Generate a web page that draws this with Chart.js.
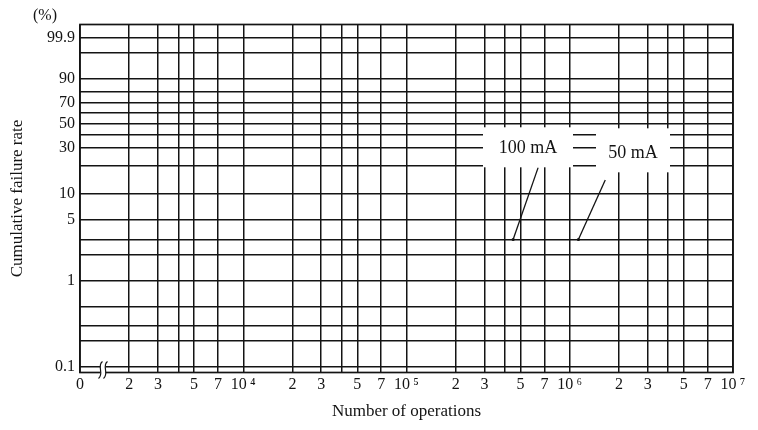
<!DOCTYPE html>
<html>
<head>
<meta charset="utf-8">
<script src="https://cdn.jsdelivr.net/npm/chart.js@4.4.1/dist/chart.umd.min.js"></script>
<style>
  html, body { margin: 0; padding: 0; background: #fff; }
</style>
</head>
<body>
<canvas id="chart" width="758" height="430"></canvas>
<script>
// ---- data ----
const seriesNames = ["100 mA", "50 mA"];
const ops100mA = [4.5e5, 6.4e5];
const rate100mA = [3, 19];
const ops50mA = [1.13e6, 1.65e6];
const rate50mA = [3, 14];

// axis ranges: x log (0 on the left is really a break at 10^3), y in %
const xRange = [1e3, 1e7];
const yRange = [0.085, 99.995];

const xTicks = [1e3, 2e3, 3e3, 4e3, 5e3, 7e3, 1e4, 2e4, 3e4, 4e4, 5e4, 7e4,
  1e5, 2e5, 3e5, 4e5, 5e5, 7e5, 1e6, 2e6, 3e6, 4e6, 5e6, 7e6, 1e7];
const xTickLabels = ["0", "2", "3", "", "5", "7", "10\u2009⁴", "2", "3", "", "5", "7",
  "10\u2009⁵", "2", "3", "", "5", "7", "10\u2009⁶", "2", "3", "", "5", "7", "10\u2009⁷"];

const yTicks = [0.1, 0.2, 0.3, 0.5, 1, 2, 3, 5, 10, 20, 30, 40, 50, 60, 70, 80, 90, 99, 99.9];
const yTickLabels = ["0.1", "", "", "", "1", "", "", "5", "10", "", "30", "", "50", "", "70", "", "90", "", "99.9"];

// where the series labels sit (operations, %)
const labelAnchors = [[5.55e5, 30.5], [2.44e6, 28.5]];

// ---- helpers ----
const FONT = '"Liberation Serif", "Times New Roman", serif';
const INK = "#141414";

// weibull paper: ln(-ln(1-F))
function weib(pct) {
  return Math.log(-Math.log(1 - pct / 100));
}

function toPoints(xs, ys) {
  return xs.map((x, i) => ({ x: x, y: weib(ys[i]) }));
}

// ---- plugins ----
const frame = {
  id: "frame",
  afterDraw(chart) {
    const { ctx, chartArea: a } = chart;
    ctx.save();
    ctx.strokeStyle = INK;
    ctx.lineWidth = 1.7;
    ctx.strokeRect(a.left, a.top, a.right - a.left, a.bottom - a.top);

    // "(%)" above the y labels
    ctx.fillStyle = INK;
    ctx.font = "16px " + FONT;
    ctx.textAlign = "center";
    ctx.textBaseline = "middle";
    ctx.fillText("(%)", a.left - 35, a.top - 9);

    // axis break on the bottom row
    const y0 = chart.scales.y.getPixelForValue(weib(yTicks[0]));
    const s1 = a.left + 20.5, s2 = a.left + 25.5;
    ctx.fillStyle = "#fff";
    ctx.fillRect(s1, y0 - 2, s2 - s1, a.bottom - y0 + 4);
    ctx.lineWidth = 1.2;
    [s1, s2].forEach((sx) => {
      ctx.beginPath();
      ctx.moveTo(sx + 2, y0 - 5);
      ctx.bezierCurveTo(sx - 4, y0 - 1, sx + 4, a.bottom + 1, sx - 2, a.bottom + 6);
      ctx.stroke();
    });
    ctx.restore();
  },
};

const seriesLabels = {
  id: "seriesLabels",
  afterDatasetsDraw(chart) {
    const { ctx } = chart;
    const xs = chart.scales.x, ys = chart.scales.y;
    const boxes = [{ w: 90, h: 40, dy: 1 }, { w: 74, h: 44, dy: 3 }];
    ctx.save();
    ctx.font = "18px " + FONT;
    ctx.textAlign = "center";
    ctx.textBaseline = "middle";
    labelAnchors.forEach(([ox, r], i) => {
      const cx = xs.getPixelForValue(ox);
      const cy = ys.getPixelForValue(weib(r));
      const b = boxes[i];
      ctx.fillStyle = "#fff";
      ctx.fillRect(cx - b.w / 2, cy - b.h / 2, b.w, b.h);
      ctx.fillStyle = INK;
      ctx.fillText(seriesNames[i], cx, cy + b.dy);
    });
    ctx.restore();
  },
};

// ---- chart ----
Chart.defaults.font.family = FONT;
Chart.defaults.color = INK;

const lineStyle = {
  borderColor: INK,
  backgroundColor: INK,
  borderWidth: 1.3,
  pointRadius: [1.6, 0],
  pointBorderWidth: 0,
  showLine: true,
  tension: 0,
};

new Chart(document.getElementById("chart"), {
  type: "line",
  data: {
    datasets: [
      { label: seriesNames[0], data: toPoints(ops100mA, rate100mA), ...lineStyle },
      { label: seriesNames[1], data: toPoints(ops50mA, rate50mA), ...lineStyle },
    ],
  },
  options: {
    responsive: false,
    animation: false,
    layout: { padding: { left: 0, right: 25, top: 24.5, bottom: 0 } },
    plugins: { legend: { display: false }, tooltip: { enabled: false } },
    scales: {
      x: {
        type: "logarithmic",
        min: xRange[0],
        max: xRange[1],
        afterBuildTicks: (s) => { s.ticks = xTicks.map((v) => ({ value: v })); },
        afterFit: (s) => { s.height = 57.5; },
        grid: { color: INK, lineWidth: 1.5, drawTicks: false },
        border: { display: false },
        ticks: {
          autoSkip: false,
          maxRotation: 0,
          padding: 3,
          font: { size: 16 },
          callback: (v, i) => xTickLabels[i],
        },
        title: {
          display: true,
          text: "Number of operations",
          font: { size: 17 },
          padding: { top: 0, bottom: 7.8 },
        },
      },
      y: {
        type: "linear",
        min: weib(yRange[0]),
        max: weib(yRange[1]),
        afterBuildTicks: (s) => { s.ticks = yTicks.map((v) => ({ value: weib(v) })); },
        afterFit: (s) => { s.width = 80; },
        grid: { color: INK, lineWidth: 1.5, drawTicks: false },
        border: { display: false },
        ticks: {
          autoSkip: false,
          padding: 5,
          font: { size: 16 },
          callback: (v, i) => yTickLabels[i],
        },
        title: {
          display: true,
          text: "Cumulative failure rate",
          font: { size: 17 },
          padding: { top: 7.8, bottom: 0 },
        },
      },
    },
  },
  plugins: [frame, seriesLabels],
});
</script>
</body>
</html>
